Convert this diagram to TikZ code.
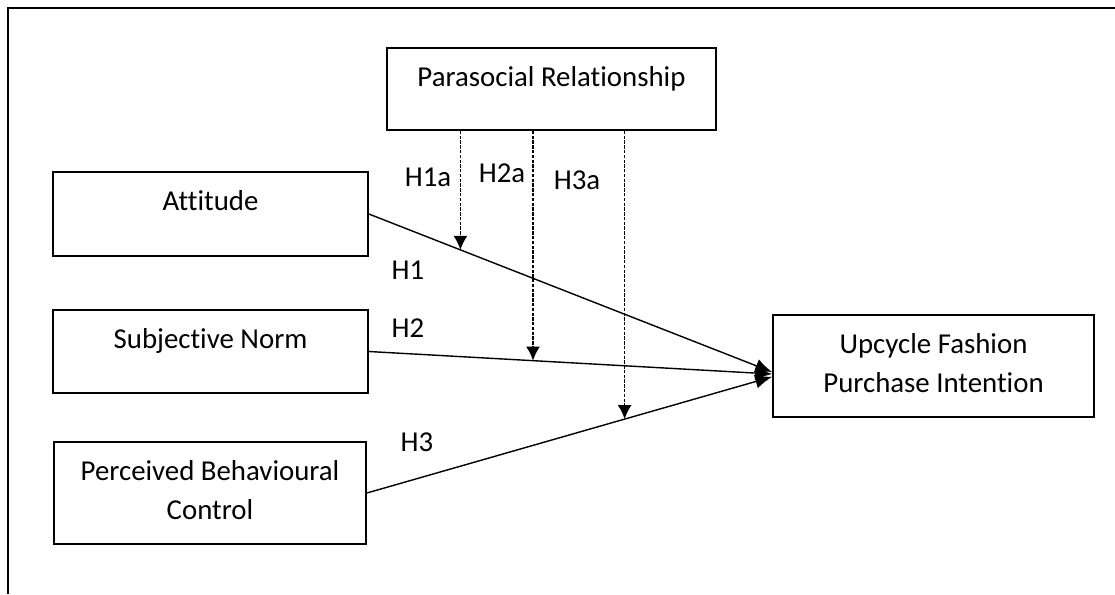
\documentclass[tikz,border=0pt]{standalone}
\usepackage{fontspec}
\setmainfont{Carlito}[Ligatures=NoCommon]
\usetikzlibrary{positioning,
        arrows.meta}

\begin{document}
\begin{tikzpicture}[x=0.025cm, y=-0.025cm,
            every node/.style={font=\fontsize{20.5}{27.7}\selectfont},
            box/.style={rectangle, draw, line width=1.2pt, inner xsep=0pt, inner ysep=0pt, align=center, text height=0.95cm},
            twoline/.style={text height=1.925cm, text depth=0.625cm},
            hyp/.style={inner sep=0pt},
            link/.style={-{Latex[length=12pt,width=10pt]}, line width=1pt},
            moderate/.style={-{Latex[length=10pt,width=10pt]}, line width=1.2pt, dash pattern=on 2.4pt off 1pt}]
            \useasboundingbox (0,0) rectangle (1115,594);
            \draw [line width=1.4pt] (1115,8) -- (8,8) -- (8,594);

            \node [box, minimum width=8.225cm, text depth=1.1cm] (PSR) at (551.5,89) {Parasocial Relationship};
            \node [box, minimum width=7.875cm, text depth=1.15cm] (Att) at (210.5,214) {Attitude};
            \node [box, minimum width=7.875cm, text depth=1.125cm] (SN) at (210.5,351.5) {Subjective Norm};
            \node [box, twoline, minimum width=7.8cm] (PBC) at (210,493) {Perceived Behavioural\\Control};
            \node [box, twoline, minimum width=8.025cm] (UPI) at (933.5,366) {Upcycle Fashion\\Purchase Intention};

            \node [hyp] (h1a) at (428,177) {H1a};
            \node [hyp] (h2a) at (502,173) {H2a};
            \node [hyp] (h3a) at (577,180) {H3a};
            \node [hyp] (h1) at (408,270) {H1};
            \node [hyp] (h2) at (408,328) {H2};
            \node [hyp] (h3) at (417,442) {H3};

            \draw [link] (Att.east) -- ([yshift=-0.15cm]UPI.west) coordinate[pos=0.227] (m1);
            \draw [link] (SN.east) -- ([yshift=-0.2cm]UPI.west) coordinate[pos=0.407] (m2);
            \draw [link] (PBC.east) -- ([yshift=-0.27cm]UPI.west) coordinate[pos=0.636] (m3);
            \draw [moderate] (PSR.south -| m1) -- (m1);
            \draw [moderate] (PSR.south -| m2) -- (m2);
            \draw [moderate] (PSR.south -| m3) -- (m3);
        \end{tikzpicture}
\end{document}
